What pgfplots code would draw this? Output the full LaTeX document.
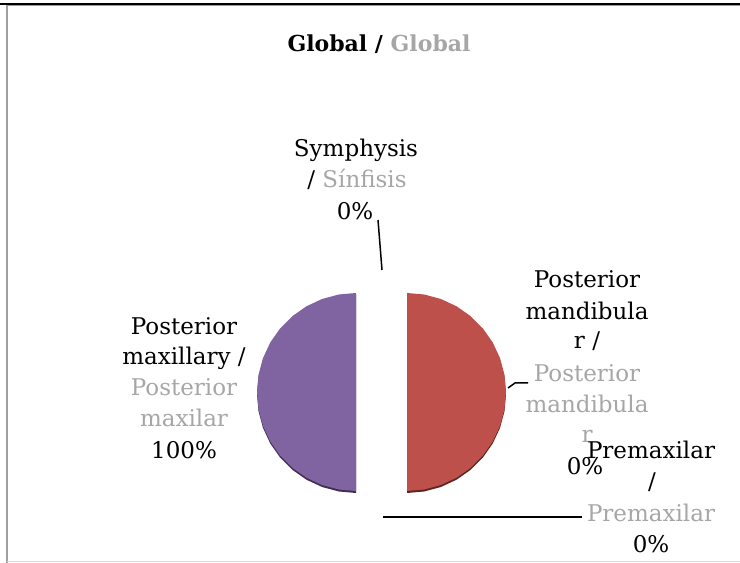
\documentclass[border=0pt]{standalone}
\usepackage{pgfplots}
\pgfplotsset{compat=1.18}
\usepackage{fontspec}
\setmainfont{DejaVu Serif}
\definecolor{pieRed}{HTML}{BE504C}
\definecolor{piePurple}{HTML}{8064A2}
\definecolor{shRed}{HTML}{5E2422}
\definecolor{shPurple}{HTML}{3E2F52}
\definecolor{lblGray}{HTML}{A6A6A6}
\newcommand\lbl{\fontsize{23bp}{31bp}\selectfont}
\begin{document}
\begin{tikzpicture}[x=1bp,y=1bp]
\path[use as bounding box] (0,0) rectangle (740,563);
\begin{axis}[at={(0,0)}, anchor=south west, scale only axis,
  width=740bp, height=563bp,
  xmin=-381.5, xmax=358.5, ymin=-171, ymax=392,
  hide axis, clip=false]
% shadows
\addplot[draw=none, fill=shPurple, data cs=polar, xshift=-25.5bp, yshift=-2bp]
  coordinates {(90,99) (100,99) (110,99) (120,99) (130,99) (140,99) (150,99) (160,99) (170,99) (180,99) (190,99) (200,99) (210,99) (220,99) (230,99) (240,99) (250,99) (260,99) (270,99)} -- cycle;
\addplot[draw=none, fill=shRed, data cs=polar, xshift=25.5bp, yshift=-2bp]
  coordinates {(-90,99) (-80,99) (-70,99) (-60,99) (-50,99) (-40,99) (-30,99) (-20,99) (-10,99) (0,99) (10,99) (20,99) (30,99) (40,99) (50,99) (60,99) (70,99) (80,99) (90,99)} -- cycle;
% slices
\addplot[draw=none, fill=piePurple, data cs=polar, xshift=-25.5bp]
  coordinates {(90,99) (100,99) (110,99) (120,99) (130,99) (140,99) (150,99) (160,99) (170,99) (180,99) (190,99) (200,99) (210,99) (220,99) (230,99) (240,99) (250,99) (260,99) (270,99)} -- cycle;
\addplot[draw=none, fill=pieRed, data cs=polar, xshift=25.5bp]
  coordinates {(-90,99) (-80,99) (-70,99) (-60,99) (-50,99) (-40,99) (-30,99) (-20,99) (-10,99) (0,99) (10,99) (20,99) (30,99) (40,99) (50,99) (60,99) (70,99) (80,99) (90,99)} -- cycle;
% leader lines
\draw[black, line width=1.5bp] (axis cs:-3.5,172) -- (axis cs:0.5,122);
\draw[black, line width=1.5bp] (axis cs:126.5,4) -- (axis cs:133.5,9) -- (axis cs:146.5,9);
\draw[black, line width=1.5bp] (axis cs:1.5,-125) -- (axis cs:200.5,-125);
% left label
\node[anchor=base, font=\lbl] at (axis cs:-197.5,57) {Posterior};
\node[anchor=base, font=\lbl] at (axis cs:-197.5,27) {maxillary /};
\node[anchor=base, font=\lbl, text=lblGray] at (axis cs:-197.5,-4) {Posterior};
\node[anchor=base, font=\lbl, text=lblGray] at (axis cs:-197.5,-35) {maxilar};
\node[anchor=base, font=\lbl] at (axis cs:-197.5,-67) {100\%};
% symphysis
\node[anchor=base, font=\lbl] at (axis cs:-25.5,235) {Symphysis};
\node[anchor=base, font=\lbl] at (axis cs:-24.5,204) {/ \textcolor{lblGray}{Sínfisis}};
\node[anchor=base, font=\lbl] at (axis cs:-26.5,172) {0\%};
% posterior mandibular
\node[anchor=base, font=\lbl] at (axis cs:205.5,104) {Posterior};
\node[anchor=base, font=\lbl] at (axis cs:205.5,72) {mandibula};
\node[anchor=base, font=\lbl] at (axis cs:205.5,43) {r /};
\node[anchor=base, font=\lbl, text=lblGray] at (axis cs:205.5,10) {Posterior};
\node[anchor=base, font=\lbl, text=lblGray] at (axis cs:205.5,-21) {mandibula};
\node[anchor=base, font=\lbl, text=lblGray] at (axis cs:205.5,-51) {r};
\node[anchor=base, font=\lbl] at (axis cs:203.5,-83) {0\%};
% premaxilar
\node[anchor=base, font=\lbl] at (axis cs:269.5,-67) {Premaxilar};
\node[anchor=base, font=\lbl] at (axis cs:270.5,-98) {/};
\node[anchor=base, font=\lbl, text=lblGray] at (axis cs:269.5,-130) {Premaxilar};
\node[anchor=base, font=\lbl] at (axis cs:269.5,-161) {0\%};
\end{axis}
% frame
\draw[black, line width=2.2bp] (0,558.7) -- (740,558.7);
\draw[gray!80, line width=1bp] (6,557.2) -- (740,557.2);
\draw[gray!75, line width=2bp] (7,557.5) -- (7,0);
\draw[gray!30, line width=1bp] (7,1.3) -- (740,1.3);
% title
\node[anchor=base, font=\bfseries\fontsize{22bp}{26bp}\selectfont] at (379,511) {Global / \textcolor{lblGray}{Global}};
\end{tikzpicture}
\end{document}
